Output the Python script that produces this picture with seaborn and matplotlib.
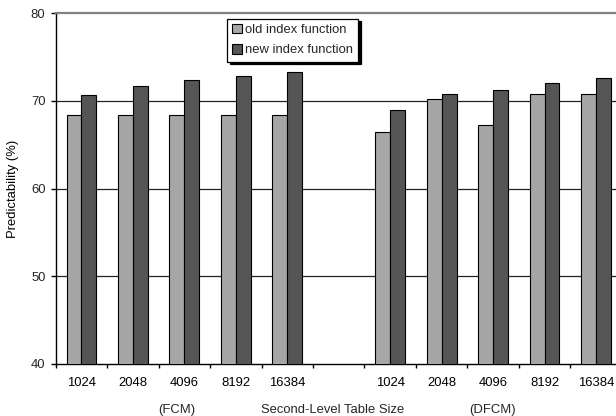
import numpy as np
import pandas as pd
import matplotlib
matplotlib.use("Agg")
import matplotlib.pyplot as plt
import seaborn as sns

# data
table_sizes = ["1024", "2048", "4096", "8192", "16384"]
fcm_old = [68.4, 68.4, 68.4, 68.4, 68.4]
fcm_new = [70.7, 71.7, 72.4, 72.9, 73.3]
dfcm_old = [66.5, 70.2, 67.3, 70.8, 70.8]
dfcm_new = [69.0, 70.8, 71.3, 72.1, 72.6]
series_names = ["old index function", "new index function"]
colors = ["#a6a6a6", "#555555"]

# build long table; one empty slot between the two predictors
rows = []
for pred, old, new in [("FCM", fcm_old, fcm_new), ("DFCM", dfcm_old, dfcm_new)]:
    for size, o, n in zip(table_sizes, old, new):
        key = f"{pred} {size}"
        rows.append({"slot": key, "series": series_names[0], "value": o})
        rows.append({"slot": key, "series": series_names[1], "value": n})
df = pd.DataFrame(rows)
order = [f"FCM {s}" for s in table_sizes] + ["gap"] + [f"DFCM {s}" for s in table_sizes]
tick_labels = table_sizes + [""] + table_sizes

sns.set_theme(style="white")
plt.rcParams["font.family"] = ["Liberation Sans", "DejaVu Sans"]
fs = 9.4

fig = plt.figure(figsize=(6.16, 4.16), dpi=100)
ax = fig.add_axes([55.7 / 616, 52 / 416, 566 / 616, 350.7 / 416])

sns.barplot(data=df, x="slot", y="value", hue="series", order=order,
            hue_order=series_names, palette=colors, width=0.58,
            edgecolor="black", linewidth=0.8, saturation=1, ax=ax, zorder=3)

ax.set_ylim(40, 80)
ax.set_yticks([40, 50, 60, 70, 80])
ax.set_xlim(-0.5, 10.5)
ax.set_xticks(range(len(order)), labels=tick_labels)
ax.set_xticks(np.arange(-0.5, len(order), 1), minor=True)
ax.tick_params(axis="x", which="major", length=0, pad=9, labelsize=fs, colors="black")
ax.tick_params(axis="x", which="minor", length=3.2, width=1, color="black", direction="out")
ax.tick_params(axis="y", length=3.4, width=1, color="black", direction="out",
               labelsize=fs, pad=4)
ax.tick_params(bottom=True, left=True)
ax.xaxis.set_tick_params(which="minor", bottom=True)

for y in [50, 60, 70]:
    ax.axhline(y, color="#222222", lw=0.9, zorder=1)

for side in ["left", "bottom"]:
    ax.spines[side].set_color("black")
    ax.spines[side].set_linewidth(1)
ax.spines["top"].set_color("#808080")
ax.spines["top"].set_linewidth(1.6)
ax.spines["right"].set_visible(False)

ax.set_xlabel("")
ax.set_ylabel("Predictability (%)", fontsize=fs, color="black")
ax.yaxis.set_label_coords(-0.064, 0.5)

fig.text(176.7 / 616, 3.3 / 416, "(FCM)", ha="center", va="baseline", fontsize=fs)
fig.text(332.5 / 616, 3.3 / 416, "Second-Level Table Size", ha="center", va="baseline", fontsize=fs)
fig.text(492.5 / 616, 3.3 / 416, "(DFCM)", ha="center", va="baseline", fontsize=fs)

handles, labels = ax.get_legend_handles_labels()
ax.get_legend().remove()
leg = ax.legend(handles, labels, loc="upper left", bbox_to_anchor=(0.303, 0.985),
                borderaxespad=0, fontsize=fs, frameon=True, fancybox=False,
                shadow={"color": "black", "alpha": 1}, framealpha=1,
                edgecolor="black", handlelength=0.75, handleheight=0.75,
                handletextpad=0.2, labelspacing=0.6, borderpad=0.4)
leg.get_frame().set_linewidth(0.9)
leg.set_zorder(5)

fig.savefig("out.png", dpi=100)
